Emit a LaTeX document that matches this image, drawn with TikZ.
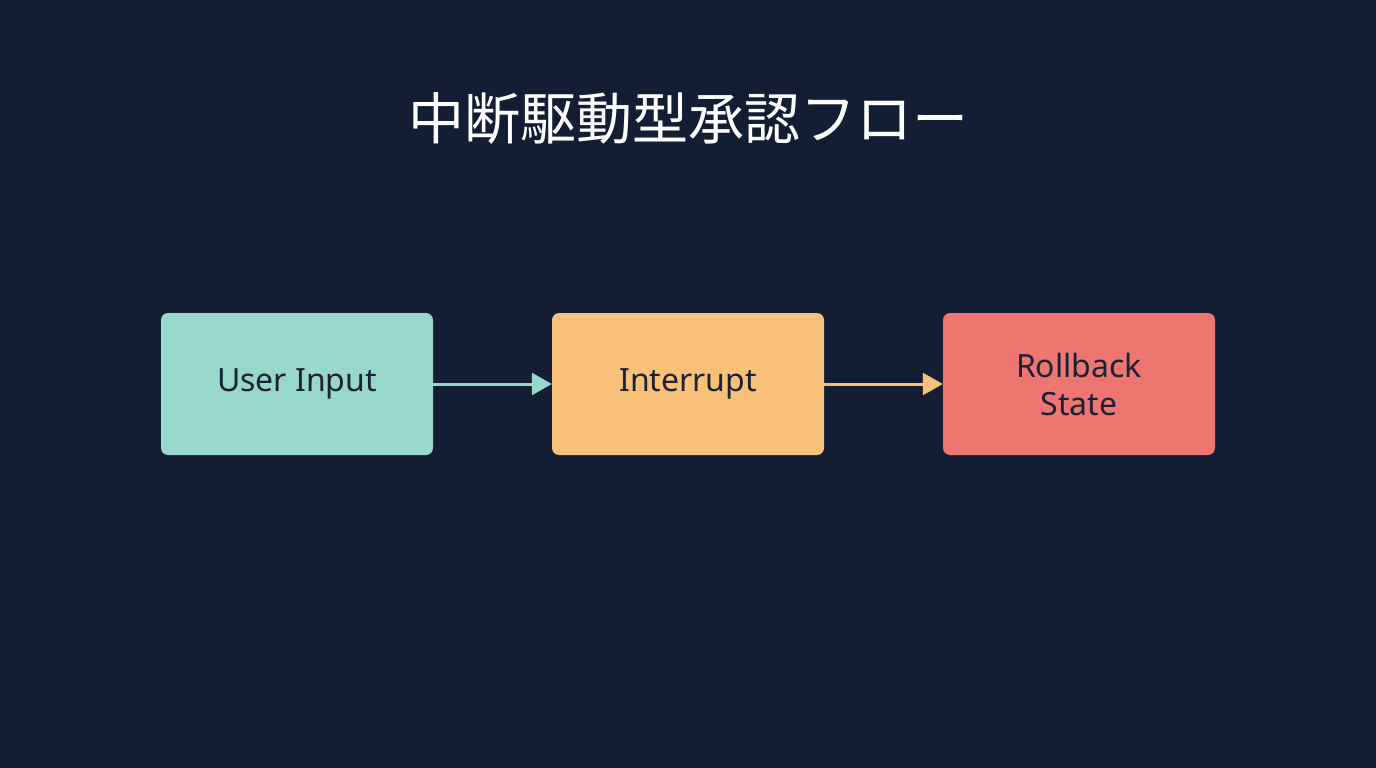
\documentclass[tikz,border=0pt]{standalone}
\usepackage{fontspec}
\setmainfont{Noto Sans}
\newfontfamily\cjk{Noto Sans CJK JP}
\usetikzlibrary{arrows.meta}
\definecolor{bg}{HTML}{131D33}
\definecolor{cteal}{HTML}{98D8CB}
\definecolor{corange}{HTML}{F9C07A}
\definecolor{cred}{HTML}{EE7570}
\definecolor{ink}{HTML}{1A2236}
\begin{document}
\begin{tikzpicture}[x=1pt,y=-1pt,
  box/.style={rounded corners=7pt,minimum width=272pt,minimum height=142pt,inner sep=0pt,text=ink,font=\fontsize{32}{38}\selectfont,align=center},
  arr/.style={line width=3pt,-{Triangle[length=20pt,width=22pt]}}]
\fill[bg] (0,0) rectangle (1376,768);
\node[text=white,font=\cjk\fontsize{56}{64}\selectfont] (title) at (688,118) {中断駆動型承認フロー};
\node[box,fill=cteal] (a) at (297,384) {User Input};
\node[box,fill=corange] (b) at (688,384) {Interrupt};
\node[box,fill=cred] (c) at (1079,384) {Rollback\\State};
\draw[arr,cteal] (a.east) -- (b.west);
\draw[arr,corange] (b.east) -- (c.west);
\end{tikzpicture}
\end{document}
